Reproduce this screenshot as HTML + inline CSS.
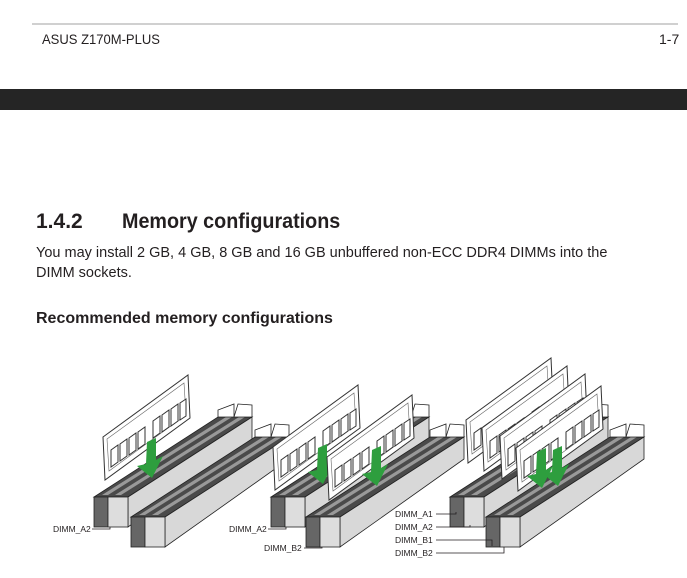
<!DOCTYPE html>
<html><head><meta charset="utf-8"><style>
body{margin:0;width:687px;height:578px;background:#fff;position:relative;overflow:hidden;font-family:"Liberation Sans",Arial,sans-serif;color:#231f20}
.t{position:absolute;white-space:nowrap;line-height:1}
</style></head><body>
<div style="position:absolute;left:32px;top:23px;width:646px;height:2px;background:#d0d0d0"></div>
<div class="t" style="left:42px;top:32px;font-size:14px;transform:scaleX(0.93);transform-origin:left">ASUS Z170M-PLUS</div>
<div class="t" style="left:659px;top:32px;font-size:14px">1-7</div>
<div style="position:absolute;left:0;top:89px;width:687px;height:21px;background:#252525"></div>
<div class="t" style="left:36px;top:211px;font-size:21px;font-weight:bold">1.4.2</div>
<div class="t" style="left:122px;top:211px;font-size:21px;font-weight:bold;transform:scaleX(0.94);transform-origin:left">Memory configurations</div>
<div class="t" style="left:36px;top:246px;font-size:14.5px">You may install 2 GB, 4 GB, 8 GB and 16 GB unbuffered non-ECC DDR4 DIMMs into the</div>
<div class="t" style="left:36px;top:266px;font-size:14.5px">DIMM sockets.</div>
<div class="t" style="left:36px;top:311px;font-size:16px;font-weight:bold">Recommended memory configurations</div>

<svg width="687" height="578" style="position:absolute;left:0;top:0" font-family="Liberation Sans, Arial, sans-serif" font-size="8.5" fill="#231f20">
<defs>
<g id="slot">
 <polygon points="0,0 34,0 158,-80 124,-80" fill="#4a4a4a" stroke="#222" stroke-width="0.8"/>
 <polygon points="8,-2 14,-2 138,-80 132,-80" fill="#999"/>
 <polygon points="21,-2 27,-2 151,-80 145,-80" fill="#999"/>
 <polygon points="34,0 158,-80 158,-58 34,30" fill="#d8d8d8" stroke="#222" stroke-width="0.8"/>
 <polygon points="124,-80 140,-80 140,-93 124,-87" fill="#fff" stroke="#222" stroke-width="0.8"/>
 <polygon points="140,-80 158,-80 158,-92 144,-93" fill="#fff" stroke="#222" stroke-width="0.8"/>
 <rect x="0" y="0" width="14" height="30" fill="#666" stroke="#222" stroke-width="0.8"/>
 <rect x="14" y="0" width="20" height="30" fill="#ddd" stroke="#222" stroke-width="0.8"/>
</g>
<g id="mod">
 <polygon points="0,0 85,-62 87,-19 2,43" fill="#fff" stroke="#333" stroke-width="1"/>
 <polygon points="4,2 81,-54 83,-22 6,34" fill="none" stroke="#666" stroke-width="0.6"/>
 <g fill="#fff" stroke="#333" stroke-width="1">
  <polygon points="8,13 15,8 15,25 8,30"/><polygon points="17,7 24,2 24,19 17,24"/>
  <polygon points="26,1 33,-4 33,13 26,18"/><polygon points="35,-5 42,-10 42,7 35,12"/>
  <polygon points="50,-16 57,-21 57,-4 50,1"/><polygon points="59,-22 66,-27 66,-10 59,-5"/>
  <polygon points="68,-28 75,-33 75,-16 68,-11"/><polygon points="77,-34 83,-38 83,-21 77,-17"/>
 </g>
</g>
<polygon id="arr" points="-3,0 6,-4 6,18 13,14 2,36 -13,24 -4,22" fill="#2e9e3e"/>
</defs>
<!-- diagram 1 -->
<use href="#slot" x="94" y="497"/>
<use href="#mod" x="103" y="437"/>
<use href="#arr" x="150" y="442"/>
<use href="#slot" x="131" y="517"/>
<text x="53" y="532">DIMM_A2</text>
<polyline points="92,529 110,529 110,527" fill="none" stroke="#231f20" stroke-width="0.8"/>
<!-- diagram 2 -->
<use href="#slot" x="271" y="497"/>
<use href="#mod" x="273" y="447"/>
<use href="#arr" x="321" y="448"/>
<use href="#slot" x="306" y="517"/>
<use href="#mod" x="327" y="457"/>
<use href="#arr" x="375" y="450"/>
<text x="229" y="532">DIMM_A2</text>
<polyline points="268,529 286,529 286,527" fill="none" stroke="#231f20" stroke-width="0.8"/>
<text x="264" y="551">DIMM_B2</text>
<polyline points="304,548 322,548 322,547" fill="none" stroke="#231f20" stroke-width="0.8"/>
<!-- diagram 3 -->
<use href="#slot" x="450" y="497"/>
<use href="#mod" x="466" y="420"/>
<use href="#mod" x="482" y="428"/>
<use href="#slot" x="486" y="517"/>
<use href="#mod" x="500" y="436"/>
<use href="#mod" x="516" y="448"/>
<use href="#arr" x="540" y="452"/>
<use href="#arr" x="556" y="450"/>
<text x="395" y="517">DIMM_A1</text>
<polyline points="436,514 456,514 456,512" fill="none" stroke="#231f20" stroke-width="0.8"/>
<text x="395" y="530">DIMM_A2</text>
<polyline points="436,527 470,527 470,525" fill="none" stroke="#231f20" stroke-width="0.8"/>
<text x="395" y="543">DIMM_B1</text>
<polyline points="436,540 492,540 492,546" fill="none" stroke="#231f20" stroke-width="0.8"/>
<text x="395" y="556">DIMM_B2</text>
<polyline points="436,553 504,553 504,547" fill="none" stroke="#231f20" stroke-width="0.8"/>
</svg>
</body></html>
